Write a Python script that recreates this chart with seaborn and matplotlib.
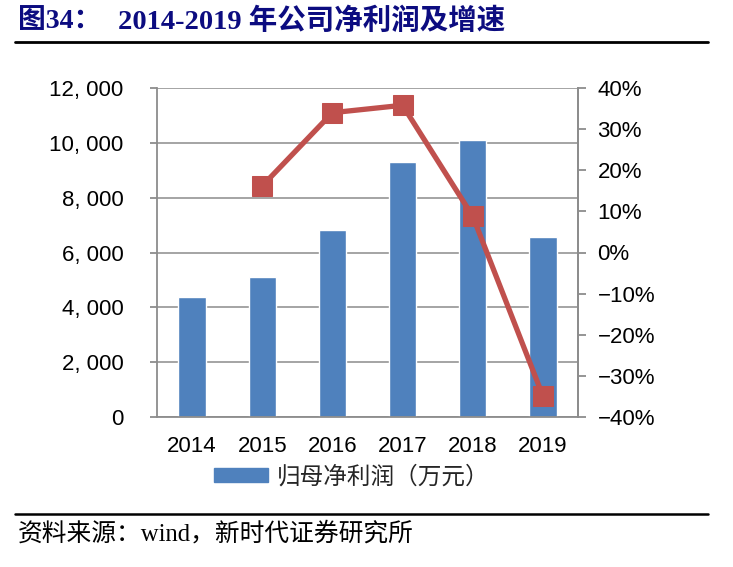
import numpy as np
import pandas as pd
import matplotlib
matplotlib.use("Agg")
import matplotlib.pyplot as plt
from matplotlib.patches import Patch
from matplotlib.lines import Line2D
from matplotlib.ticker import FixedLocator, FuncFormatter
import seaborn as sns

# ---- data ----
years = ["2014", "2015", "2016", "2017", "2018", "2019"]
net_profit = [4380, 5090, 6830, 9290, 10100, 6550]          # 归母净利润（万元）
growth_pct = [np.nan, 16.2, 34.0, 35.8, 8.8, -34.9]          # 增速 (%)
left_ticks = [0, 2000, 4000, 6000, 8000, 10000, 12000]
right_ticks = [-40, -30, -20, -10, 0, 10, 20, 30, 40]

title_fig = "图34："
title_text = "2014-2019 年公司净利润及增速"
legend_label = "归母净利润（万元）"
source_text = "资料来源：wind，新时代证券研究所"

BAR_C = "#4F81BD"
LINE_C = "#C0504D"
GRID_C = "#8C8C8C"
NAVY = "#0c0c80"

sns.set_style("white")
plt.rcParams["font.family"] = ["Liberation Sans", "Noto Sans CJK SC", "DejaVu Sans"]
plt.rcParams["axes.unicode_minus"] = True

W, H = 733, 567
fig = plt.figure(figsize=(W / 100, H / 100), dpi=100)

# axes placement (pixels)
x0, x1, ytop, ybot = 157, 578, 88, 417
ax = fig.add_axes([x0 / W, 1 - ybot / H, (x1 - x0) / W, (ybot - ytop) / H])

df = pd.DataFrame({"year": years, "profit": net_profit, "growth": growth_pct})
df["pos"] = np.arange(len(df))

sns.barplot(data=df, x="year", y="profit", color=BAR_C, saturation=1,
            width=0.39, ax=ax, zorder=2)
ax.set_xlim(-0.5, len(years) - 0.5)
ax.set_ylim(left_ticks[0], left_ticks[-1])
ax.set_xlabel("")
ax.set_ylabel("")

# grid
ax.yaxis.set_major_locator(FixedLocator(left_ticks))
ax.yaxis.set_major_formatter(FuncFormatter(lambda v, p: f"{int(v):,}".replace(",", ", ")))
ax.grid(axis="y", color=GRID_C, linewidth=1.1, zorder=0)
ax.grid(axis="x", visible=False)
ax.set_axisbelow(True)

ax.spines["top"].set_visible(False)
for s in ["left", "bottom", "right"]:
    ax.spines[s].set_color(GRID_C)
    ax.spines[s].set_linewidth(1.3)

# x ticks at category boundaries, labels at centers
ax.set_xticks(np.arange(len(years)))
ax.set_xticklabels(years)
ax.set_xticks(np.arange(-0.5, len(years)), minor=True)
ax.tick_params(axis="x", which="major", length=0, pad=14, labelsize=16, colors="black")
ax.tick_params(axis="x", which="minor", length=6, width=1.3, color=GRID_C, direction="out")
ax.tick_params(axis="y", which="major", length=5, width=1.3, color=GRID_C, direction="out",
               pad=19, labelsize=16, labelcolor="black")

# secondary axis
ax2 = ax.twinx()
dl = df.dropna(subset=["growth"])
sns.lineplot(data=dl, x="pos", y="growth", ax=ax2, color=LINE_C, linewidth=3.8,
             marker="s", markersize=14.5, markeredgecolor=LINE_C,
             markerfacecolor=LINE_C, legend=False, zorder=3)
ax2.set_ylim(right_ticks[0], right_ticks[-1])
ax2.yaxis.set_major_locator(FixedLocator(right_ticks))
ax2.yaxis.set_major_formatter(FuncFormatter(lambda v, p: f"{int(v)}%".replace("-", "\u2212")))
ax2.set_xlabel("")
ax2.set_ylabel("")
ax2.set_xlim(-0.5, len(years) - 0.5)
for s in ["top", "left", "bottom"]:
    ax2.spines[s].set_visible(False)
ax2.spines["right"].set_color(GRID_C)
ax2.spines["right"].set_linewidth(1.3)
ax2.tick_params(axis="y", length=6, width=1.3, color=GRID_C, direction="out",
                pad=8, labelsize=16, labelcolor="black")
ax2.grid(False)

# legend (bars only)
handles = [Patch(facecolor=BAR_C, edgecolor=BAR_C)]
fig.legend(handles, [legend_label], loc="center", bbox_to_anchor=(352 / W, 1 - 477 / H),
           frameon=False, handlelength=2.25, handleheight=0.5, handletextpad=0.4,
           prop={"family": ["Noto Sans CJK SC"], "size": 17})

# title
title_fam = ["Liberation Serif", "Noto Sans CJK SC"]
fig.text(18 / W, 1 - 21 / H, title_fig, family=title_fam, weight="bold", size=20,
         color=NAVY, ha="left", va="center")
fig.text(118 / W, 1 - 21 / H, title_text, family=title_fam, weight="bold", size=20.5,
         color=NAVY, ha="left", va="center")
fig.add_artist(Line2D([15 / W, 708 / W], [1 - 42 / H, 1 - 42 / H], color="black",
                      linewidth=2.0, transform=fig.transFigure))

# source
fig.add_artist(Line2D([15 / W, 708 / W], [1 - 514 / H, 1 - 514 / H], color="black",
                      linewidth=1.8, transform=fig.transFigure))
fig.text(18 / W, 1 - 534 / H, source_text, family=["Liberation Serif", "Noto Sans CJK SC"],
         size=17.8, color="black", ha="left", va="center")

fig.savefig("out.png", dpi=100)
